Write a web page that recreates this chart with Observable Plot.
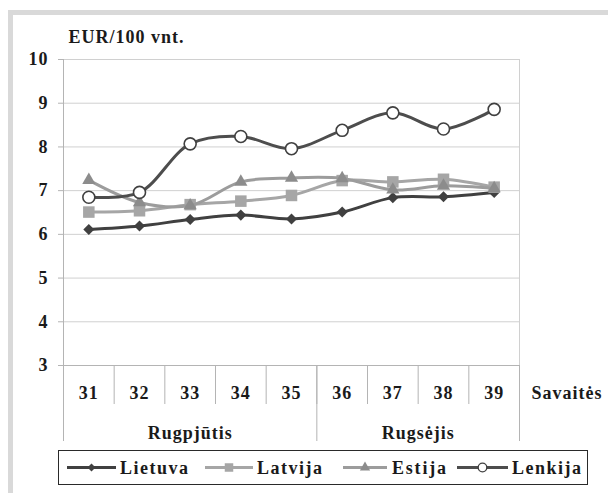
<!DOCTYPE html>
<html>
<head>
<meta charset="utf-8">
<script src="https://cdn.jsdelivr.net/npm/d3@7"></script>
<script src="https://cdn.jsdelivr.net/npm/@observablehq/plot@0.6"></script>
<style>
  html, body { margin: 0; padding: 0; background: #fff; overflow: hidden; }
  #wrap { position: relative; width: 608px; height: 493px; }
  #frame { position: absolute; left: 8px; top: 10px; width: 700px; height: 600px;
           border: 5px solid #d9d9d9; box-sizing: border-box; pointer-events: none; }
  #chart svg text, #legend text { font-family: "Liberation Serif", "Tinos", "Times New Roman", "Nimbus Roman", "FreeSerif", "Noto Serif", "DejaVu Serif", serif !important; font-weight: bold; }
  #chart svg text { letter-spacing: 1px; }
  #legend { position: absolute; left: 0; top: 450px; }
</style>
</head>
<body>
<div id="wrap">
  <div id="chart"></div>
  <div id="legend"></div>
  <div id="frame"></div>
</div>
<script>
// ---------- data ----------
const weeks = [31, 32, 33, 34, 35, 36, 37, 38, 39];
const months = ["Rugpjūtis", "Rugsėjis"];
const monthWeeks = [[31, 32, 33, 34, 35], [36, 37, 38, 39]];
const seriesNames = ["Lietuva", "Latvija", "Estija", "Lenkija"];
const lietuva = [6.11, 6.19, 6.34, 6.44, 6.35, 6.51, 6.84, 6.86, 6.96];
const latvija = [6.51, 6.54, 6.68, 6.76, 6.89, 7.23, 7.20, 7.26, 7.08];
const estija  = [7.24, 6.73, 6.66, 7.20, 7.29, 7.28, 7.02, 7.11, 7.05];
const lenkija = [6.85, 6.96, 8.07, 8.24, 7.96, 8.38, 8.78, 8.41, 8.86];
const yTicks = [3, 4, 5, 6, 7, 8, 9, 10];
const yTitle = "EUR/100 vnt.";
const xTitle = "Savaitės";

// ---------- styles ----------
const diamond = {
  draw(ctx, size) {
    const h = Math.sqrt(size / 2);
    ctx.moveTo(0, -h); ctx.lineTo(h, 0); ctx.lineTo(0, h); ctx.lineTo(-h, 0); ctx.closePath();
  }
};
const seriesValues = [lietuva, latvija, estija, lenkija];
const seriesStyle = [
  {line: "#404040", symbol: diamond,    fill: "#404040", stroke: "none",    r: 4.4, lr: 3.2},
  {line: "#a6a6a6", symbol: "square",   fill: "#a6a6a6", stroke: "none",    r: 6.5, lr: 4.8},
  {line: "#9c9c9c", symbol: "triangle", fill: "#8c8c8c", stroke: "none",    r: 4.9, lr: 3.8},
  {line: "#4d4d4d", symbol: "circle",   fill: "#ffffff", stroke: "#404040", r: 6,   lr: 4.3}
];
const gridColor = "#d0d0d0";
const axisColor = "#b4b4b4";
const textColor = "#1a1a1a";
const font = "'Liberation Serif', Tinos, 'Times New Roman', 'DejaVu Serif', serif";

// ---------- derived ----------
const xMin = weeks[0] - 0.5, xMax = weeks[weeks.length - 1] + 0.5;
const weekBounds = weeks.map(w => w - 0.5).concat([xMax]);
const monthBounds = monthWeeks.map(m => m[0] - 0.5).concat([xMax]);
const monthRows = months.map((m, i) => ({name: m, x: (monthWeeks[i][0] - 0.5 + monthWeeks[i][monthWeeks[i].length - 1] + 0.5) / 2}));
const yMin = yTicks[0], yMax = yTicks[yTicks.length - 1];

const seriesMarks = seriesNames.flatMap((name, si) => {
  const rows = weeks.map((w, i) => ({week: w, value: seriesValues[si][i]}));
  const s = seriesStyle[si];
  return [
    Plot.line(rows, {x: "week", y: "value", stroke: s.line, strokeWidth: 3, curve: "catmull-rom"}),
    Plot.dot(rows, {x: "week", y: "value", symbol: s.symbol, r: s.r, fill: s.fill,
                    stroke: s.stroke, strokeWidth: s.stroke === "none" ? 0 : 1.6})
  ];
});

const plot = Plot.plot({
  width: 608, height: 450,
  marginLeft: 63, marginRight: 89, marginTop: 59, marginBottom: 85,
  style: {fontFamily: font, fontWeight: "bold", fontSize: "18px", background: "transparent", color: textColor},
  x: {domain: [xMin, xMax], axis: null},
  y: {domain: [yMin, yMax], axis: null},
  marks: [
    Plot.gridY(yTicks.slice(1), {stroke: gridColor, strokeOpacity: 1}),
    Plot.ruleX([xMax], {stroke: gridColor}),
    Plot.axisX({ticks: weekBounds, tickSize: 39, tickFormat: () => "", stroke: axisColor, label: null}),
    Plot.axisX({ticks: monthBounds, tickSize: 76, tickFormat: () => "", stroke: axisColor, label: null}),
    Plot.ruleY([yMin], {stroke: axisColor}),
    Plot.ruleX([xMin], {stroke: axisColor}),
    Plot.axisY({ticks: yTicks, tickSize: 5, tickPadding: 10, tickFormat: d => String(d), stroke: axisColor,
                fontSize: 18, fontWeight: "bold", label: null}),
    Plot.text(weeks, {x: d => d, y: yMin, dy: 28, fontSize: 18, fontWeight: "bold", fill: textColor}),
    Plot.text(monthRows, {x: "x", y: yMin, dy: 68, text: "name", fontSize: 18, fontWeight: "bold", fill: textColor}),
    Plot.text([xTitle], {x: xMax, y: yMin, dy: 28, dx: 12, textAnchor: "start", fontSize: 18, fontWeight: "bold", fill: textColor}),
    Plot.text([yTitle], {x: xMin, y: yMax, dy: -22, dx: 5, textAnchor: "start", fontSize: 18, fontWeight: "bold", fill: textColor}),
    ...seriesMarks
  ]
});
document.getElementById("chart").appendChild(plot);

// ---------- legend ----------
const legendLayout = [
  {x1: 67, x2: 116, tx: 120, tw: 68},
  {x1: 205, x2: 253, tx: 257, tw: 65},
  {x1: 343, x2: 387, tx: 392, tw: 54},
  {x1: 457, x2: 508, tx: 512, tw: 69}
];
const lsvg = d3.select("#legend").append("svg").attr("width", 608).attr("height", 43);
lsvg.append("rect").attr("x", 58.5).attr("y", 0.5).attr("width", 529).attr("height", 34)
  .attr("fill", "#fff").attr("stroke", "#2a2a2a").attr("stroke-width", 1);
seriesNames.forEach((name, i) => {
  const L = legendLayout[i], s = seriesStyle[i], cy = 17.5;
  const g = lsvg.append("g");
  g.append("line").attr("x1", L.x1).attr("x2", L.x2).attr("y1", cy).attr("y2", cy)
    .attr("stroke", s.line).attr("stroke-width", 3);
  const type = typeof s.symbol === "string"
    ? {square: d3.symbolSquare, triangle: d3.symbolTriangle, circle: d3.symbolCircle}[s.symbol]
    : s.symbol;
  g.append("path").attr("d", d3.symbol(type, Math.PI * s.lr * s.lr)())
    .attr("transform", `translate(${(L.x1 + L.x2) / 2},${cy})`)
    .attr("fill", s.fill).attr("stroke", s.stroke === "none" ? null : s.stroke)
    .attr("stroke-width", s.stroke === "none" ? null : 1.3);
  g.append("text").attr("x", L.tx).attr("y", cy).attr("dy", "0.35em")
    .attr("font-size", 18).attr("fill", textColor)
    .attr("textLength", L.tw).attr("lengthAdjust", "spacing").text(name);
});
</script>
</body>
</html>
